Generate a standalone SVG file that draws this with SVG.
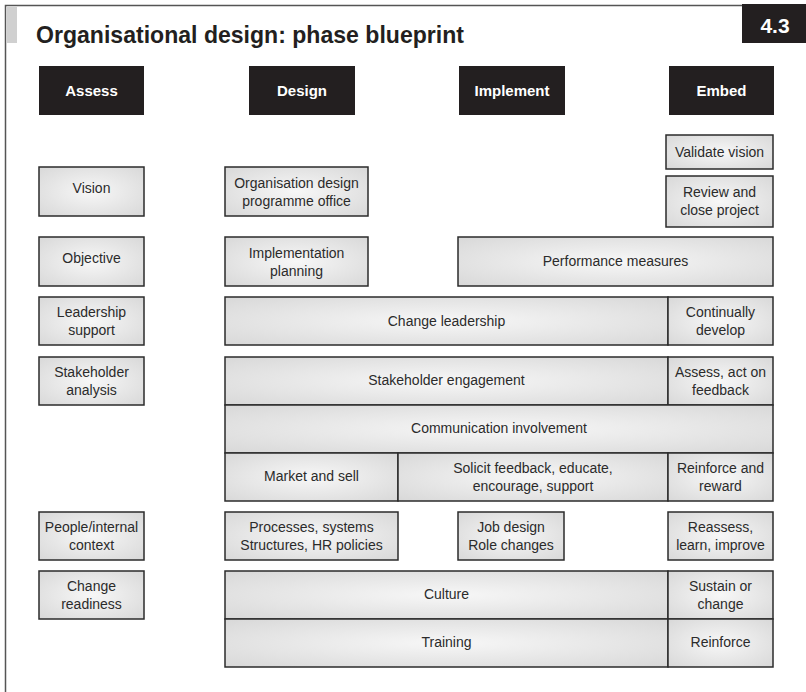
<svg xmlns="http://www.w3.org/2000/svg" width="806" height="692" viewBox="0 0 806 692">
<defs>
<radialGradient id="g" cx="0.5" cy="0.5" r="0.75">
<stop offset="0" stop-color="#f7f7f7"/>
<stop offset="1" stop-color="#d6d6d6"/>
</radialGradient>
<style>
.b{fill:url(#g);stroke:#2b2b2b;stroke-width:1.5}
.h{fill:#231f20}
.t{font-family:"Liberation Sans",Arial,sans-serif;font-size:14px;fill:#2b2b2b;text-anchor:middle}
.ht{font-family:"Liberation Sans",Arial,sans-serif;font-size:15px;font-weight:bold;fill:#fff;text-anchor:middle}
.frame{fill:none;stroke:#555;stroke-width:1.5}
</style>
</defs>
<rect width="806" height="692" fill="#fff"/>
<g id="frame">
<path class="frame" d="M5.5,692 V5.5 H743"/>
<rect x="7" y="7" width="10" height="36" fill="#d0d0d0"/>
<rect x="742" y="4" width="64" height="39" fill="#231f20"/>
<text x="775" y="33" font-family="Liberation Sans,Arial,sans-serif" font-size="21" font-weight="bold" fill="#fff" text-anchor="middle">4.3</text>
<text x="36" y="43" font-family="Liberation Sans,Arial,sans-serif" font-size="24" font-weight="bold" fill="#231f20" textLength="428" lengthAdjust="spacingAndGlyphs">Organisational design: phase blueprint</text>
</g>
<g id="hdr-assess"><rect class="h" x="39" y="66" width="105" height="49"/><text class="ht" x="91.5" y="96">Assess</text></g>
<g id="hdr-design"><rect class="h" x="249" y="66" width="106" height="49"/><text class="ht" x="302" y="96">Design</text></g>
<g id="hdr-implement"><rect class="h" x="459" y="66" width="106" height="49"/><text class="ht" x="512" y="96">Implement</text></g>
<g id="hdr-embed"><rect class="h" x="669" y="66" width="105" height="49"/><text class="ht" x="721.5" y="96">Embed</text></g>

<g id="validate-vision"><rect class="b" x="666" y="135" width="107" height="34"/><text class="t" x="719.5" y="157">Validate vision</text></g>
<g id="review-close"><rect class="b" x="666" y="176" width="107" height="51"/><text class="t" x="719.5" y="197">Review and</text><text class="t" x="719.5" y="215">close project</text></g>

<g id="vision"><rect class="b" x="39" y="167" width="105" height="49"/><text class="t" x="91.5" y="193">Vision</text></g>
<g id="prog-office"><rect class="b" x="225" y="167" width="143" height="49"/><text class="t" x="296.5" y="188">Organisation design</text><text class="t" x="296.5" y="206">programme office</text></g>

<g id="objective"><rect class="b" x="39" y="237" width="105" height="49"/><text class="t" x="91.5" y="263">Objective</text></g>
<g id="impl-planning"><rect class="b" x="225" y="237" width="143" height="49"/><text class="t" x="296.5" y="258">Implementation</text><text class="t" x="296.5" y="276">planning</text></g>
<g id="perf-measures"><rect class="b" x="458" y="237" width="315" height="49"/><text class="t" x="615.5" y="266">Performance measures</text></g>

<g id="leadership-support"><rect class="b" x="39" y="297" width="105" height="48"/><text class="t" x="91.5" y="317">Leadership</text><text class="t" x="91.5" y="335">support</text></g>
<g id="change-leadership"><rect class="b" x="225" y="297" width="443" height="48"/><text class="t" x="446.5" y="326">Change leadership</text></g>
<g id="continually-develop"><rect class="b" x="668" y="297" width="105" height="48"/><text class="t" x="720.5" y="317">Continually</text><text class="t" x="720.5" y="335">develop</text></g>

<g id="stakeholder-analysis"><rect class="b" x="39" y="357" width="105" height="48"/><text class="t" x="91.5" y="377">Stakeholder</text><text class="t" x="91.5" y="395">analysis</text></g>
<g id="stakeholder-engagement"><rect class="b" x="225" y="357" width="443" height="48"/><text class="t" x="446.5" y="385">Stakeholder engagement</text></g>
<g id="assess-feedback"><rect class="b" x="668" y="357" width="105" height="48"/><text class="t" x="720.5" y="377">Assess, act on</text><text class="t" x="720.5" y="395">feedback</text></g>

<g id="communication"><rect class="b" x="225" y="405" width="548" height="48"/><text class="t" x="499" y="433">Communication involvement</text></g>

<g id="market-sell"><rect class="b" x="225" y="453" width="173" height="48"/><text class="t" x="311.5" y="481">Market and sell</text></g>
<g id="solicit"><rect class="b" x="398" y="453" width="270" height="48"/><text class="t" x="533" y="473">Solicit feedback, educate,</text><text class="t" x="533" y="491">encourage, support</text></g>
<g id="reinforce-reward"><rect class="b" x="668" y="453" width="105" height="48"/><text class="t" x="720.5" y="473">Reinforce and</text><text class="t" x="720.5" y="491">reward</text></g>

<g id="people-context"><rect class="b" x="39" y="512" width="105" height="48"/><text class="t" x="91.5" y="532">People/internal</text><text class="t" x="91.5" y="550">context</text></g>
<g id="processes"><rect class="b" x="225" y="512" width="173" height="48"/><text class="t" x="311.5" y="532">Processes, systems</text><text class="t" x="311.5" y="550">Structures, HR policies</text></g>
<g id="job-design"><rect class="b" x="458" y="512" width="106" height="48"/><text class="t" x="511" y="532">Job design</text><text class="t" x="511" y="550">Role changes</text></g>
<g id="reassess"><rect class="b" x="668" y="512" width="105" height="48"/><text class="t" x="720.5" y="532">Reassess,</text><text class="t" x="720.5" y="550">learn, improve</text></g>

<g id="change-readiness"><rect class="b" x="39" y="571" width="105" height="48"/><text class="t" x="91.5" y="591">Change</text><text class="t" x="91.5" y="609">readiness</text></g>
<g id="culture"><rect class="b" x="225" y="571" width="443" height="48"/><text class="t" x="446.5" y="599">Culture</text></g>
<g id="sustain"><rect class="b" x="668" y="571" width="105" height="48"/><text class="t" x="720.5" y="591">Sustain or</text><text class="t" x="720.5" y="609">change</text></g>

<g id="training"><rect class="b" x="225" y="619" width="443" height="48"/><text class="t" x="446.5" y="647">Training</text></g>
<g id="reinforce"><rect class="b" x="668" y="619" width="105" height="48"/><text class="t" x="720.5" y="647">Reinforce</text></g>

<g id="connectors"/>
</svg>
